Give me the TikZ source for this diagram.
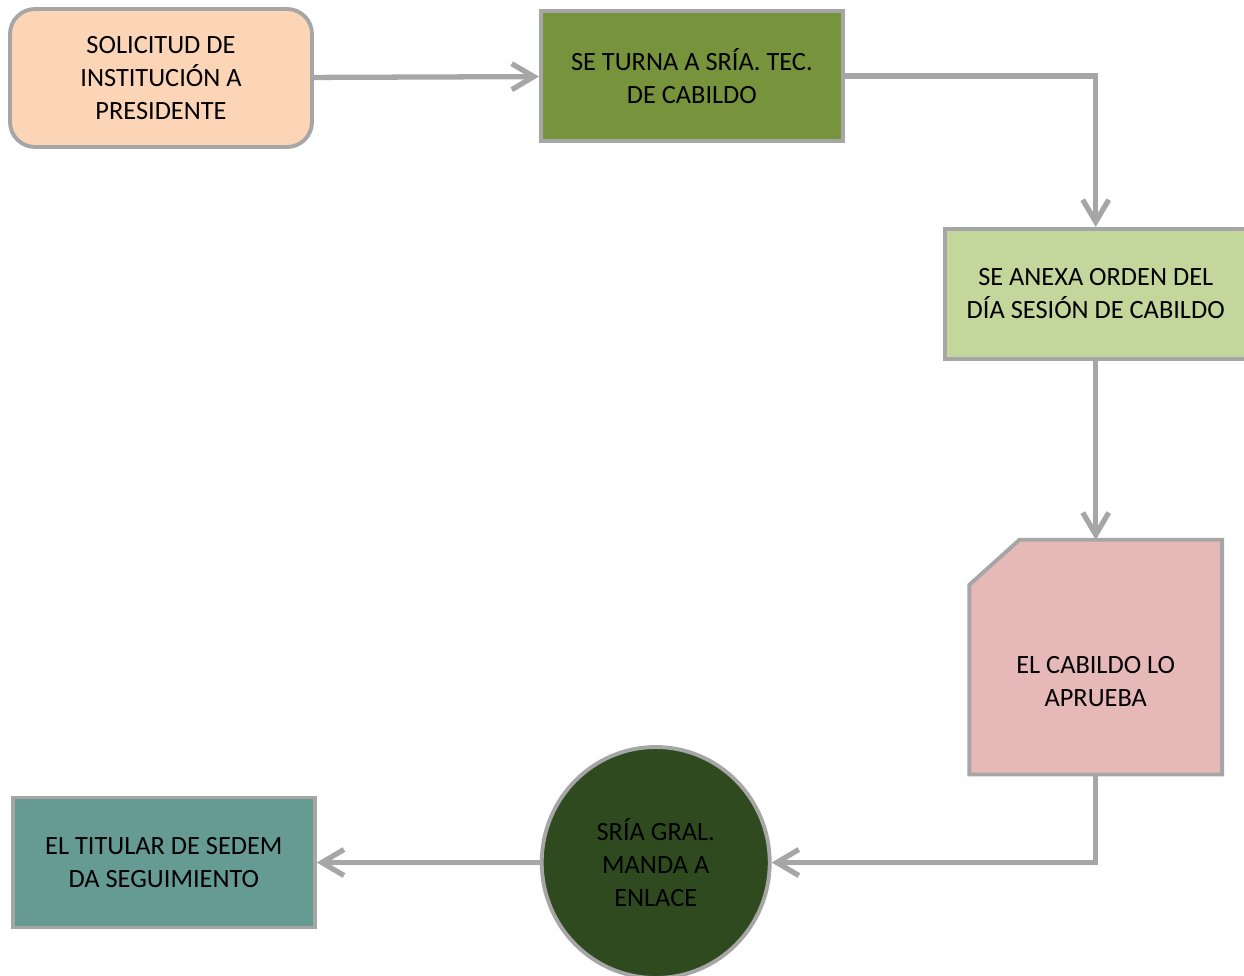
\documentclass[tikz,border=0pt]{standalone}
\usepackage{fontspec}
\setmainfont{Carlito}
\usepackage{xcolor}
\definecolor{boxborder}{RGB}{166,166,166}
\definecolor{solbg}{RGB}{251,213,181}
\definecolor{turnabg}{RGB}{119,147,60}
\definecolor{anexabg}{RGB}{195,214,155}
\definecolor{cabbg}{RGB}{230,185,184}
\definecolor{enlacebg}{RGB}{47,74,31}
\definecolor{titularbg}{RGB}{101,155,147}
\usetikzlibrary{positioning}
\usetikzlibrary{arrows.meta}
\usetikzlibrary{shapes}
\usetikzlibrary{backgrounds}
\usepackage{tikz}

\begin{document}
\begin{tikzpicture}[font=\fontsize{15}{18.8}\selectfont,
      box style/.style={rectangle,draw=boxborder,line width=2.2pt,align=center,
        minimum width=6.04cm,minimum height=2.6cm},
      start style/.style={box style,rounded corners=0.5cm,fill=solbg,
        minimum height=2.76cm},
      snip style/.style={rectangle,draw=none,align=center,
        minimum width=5.04cm,minimum height=4.68cm},
      end style/.style={ellipse,draw=boxborder,line width=2.2pt,fill=enlacebg,align=center,
        minimum width=4.56cm,minimum height=4.62cm},
      flow/.style={draw=boxborder,line width=3pt,-{Straight Barb[length=4.4mm,width=5.2mm]}}
      ]
      \useasboundingbox (0,0) rectangle (24.88,-19.5);

      \node[start style] (sol) at (3.22,-1.56) {SOLICITUD DE \\ INSTITUCIÓN A \\ PRESIDENTE};
      \node[box style, fill=turnabg, right=4.5cm of sol, yshift=0.04cm] (turna) {SE TURNA A SRÍA. TEC. \\ DE CABILDO};
      \node[box style, fill=anexabg, below right=1.68cm and 1.96cm of turna] (anexa) {SE ANEXA ORDEN DEL \\ DÍA SESIÓN DE CABILDO};
      \node[snip style, below=3.58cm of anexa,
        label={[align=center,yshift=-0.48cm]center:EL CABILDO LO \\ APRUEBA}] (cab) {};
      \node[end style, below left=1.76cm and 8.8cm of cab.south, anchor=center] (enlace) {SRÍA GRAL. \\ MANDA A \\ ENLACE};
      \node[box style, fill=titularbg, left=4.46cm of enlace] (titular) {EL TITULAR DE SEDEM \\ DA SEGUIMIENTO};

      \begin{scope}[on background layer]
        \filldraw[draw=boxborder,fill=cabbg,line width=2.2pt]
          ([yshift=-0.9cm]cab.north west) -- ([xshift=1cm]cab.north west) -- (cab.north east)
          -- (cab.south east) -- (cab.south west) -- cycle;
      \end{scope}

      \draw[flow] (sol) -- (turna);
      \draw[flow] (turna.east) -| (anexa.north);
      \draw[flow] (anexa) -- (cab);
      \draw[flow] (cab.south) |- (enlace.east);
      \draw[flow] (enlace) -- (titular);
    \end{tikzpicture}
\end{document}
